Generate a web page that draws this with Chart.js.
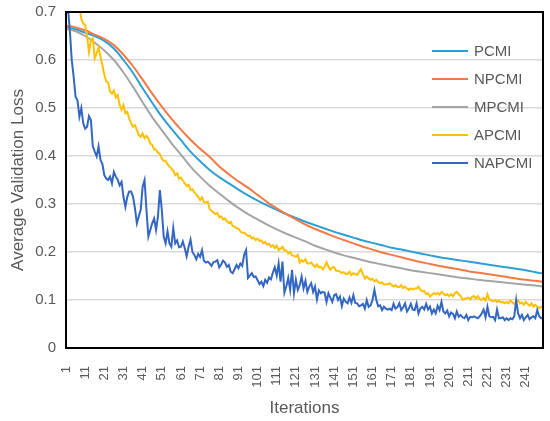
<!DOCTYPE html>
<html lang="en">
<head>
<meta charset="UTF-8">
<title>Average Validation Loss</title>
<script src="https://cdn.jsdelivr.net/npm/chart.js"></script>
<style>
  body { margin: 0; background: #fff; }
</style>
</head>
<body>
<canvas id="chart" width="550" height="421"></canvas>
<script>
// x categories: iterations 1..250, labelled every 10
const iterations = Array.from({length: 250}, (_, i) => String(i + 1));
const xTickLabels = ['1','11','21','31','41','51','61','71','81','91','101','111','121',
  '131','141','151','161','171','181','191','201','211','221','231','241'];

// smooth curves read every 5 iterations
const sampleIters = ['1','6','11','16','21','26','31','36','41','46',
  '51','56','61','66','71','76','81','86','91','96',
  '101','106','111','116','121','126','131','136','141','146',
  '151','156','161','166','171','176','181','186','191','196',
  '201','206','211','216','221','226','231','236','241','246','250'];

const pcmi = [0.668,0.664,0.657,0.650,0.640,0.624,0.600,0.573,0.541,0.511,
  0.482,0.457,0.433,0.409,0.389,0.371,0.356,0.343,0.330,0.318,
  0.307,0.297,0.288,0.279,0.271,0.263,0.256,0.249,0.242,0.236,
  0.230,0.224,0.219,0.214,0.209,0.205,0.201,0.197,0.193,0.189,
  0.186,0.183,0.180,0.177,0.174,0.171,0.168,0.165,0.162,0.158,0.155];

const npcmi = [0.672,0.668,0.662,0.653,0.644,0.631,0.611,0.587,0.559,0.530,
  0.503,0.478,0.455,0.434,0.415,0.398,0.378,0.362,0.347,0.334,
  0.319,0.304,0.291,0.279,0.268,0.257,0.248,0.240,0.232,0.225,
  0.218,0.211,0.205,0.199,0.194,0.189,0.184,0.179,0.175,0.171,
  0.167,0.164,0.160,0.157,0.154,0.151,0.148,0.145,0.142,0.140,0.138];

const mpcmi = [0.665,0.660,0.650,0.636,0.620,0.600,0.574,0.544,0.512,0.481,
  0.454,0.427,0.403,0.378,0.357,0.338,0.322,0.306,0.292,0.279,
  0.268,0.257,0.247,0.238,0.230,0.222,0.213,0.206,0.199,0.193,
  0.188,0.183,0.178,0.174,0.170,0.166,0.162,0.159,0.156,0.153,
  0.150,0.147,0.145,0.142,0.140,0.138,0.136,0.134,0.132,0.130,0.128];

// noisy curves, one value per iteration
const apcmi = [0.95,0.9,0.86,0.82,0.79,0.76,0.74,0.715,0.685,0.676,
  0.673,0.649,0.617,0.642,0.645,0.603,0.614,0.626,0.607,0.589,
  0.569,0.555,0.553,0.534,0.53,0.536,0.522,0.527,0.506,0.496,
  0.506,0.489,0.492,0.478,0.469,0.461,0.464,0.454,0.444,0.44,
  0.447,0.437,0.442,0.437,0.426,0.423,0.414,0.413,0.407,0.404,
  0.395,0.39,0.39,0.383,0.378,0.374,0.369,0.36,0.364,0.353,
  0.355,0.349,0.343,0.338,0.34,0.329,0.331,0.324,0.32,0.315,
  0.308,0.314,0.304,0.303,0.305,0.289,0.286,0.282,0.279,0.281,
  0.272,0.274,0.268,0.27,0.264,0.261,0.263,0.254,0.253,0.249,
  0.249,0.243,0.24,0.24,0.237,0.233,0.234,0.228,0.23,0.225,
  0.228,0.223,0.224,0.218,0.221,0.215,0.217,0.211,0.214,0.208,
  0.213,0.204,0.207,0.211,0.203,0.203,0.197,0.2,0.193,0.192,
  0.19,0.194,0.178,0.183,0.18,0.185,0.176,0.176,0.178,0.173,
  0.169,0.174,0.168,0.169,0.164,0.169,0.179,0.169,0.163,0.168,
  0.168,0.161,0.161,0.159,0.156,0.158,0.154,0.154,0.159,0.152,
  0.156,0.154,0.152,0.159,0.164,0.154,0.145,0.149,0.145,0.142,
  0.144,0.139,0.142,0.137,0.135,0.137,0.132,0.133,0.133,0.135,
  0.131,0.128,0.131,0.127,0.127,0.131,0.125,0.128,0.124,0.121,
  0.124,0.122,0.124,0.124,0.128,0.121,0.118,0.119,0.112,0.114,
  0.107,0.111,0.114,0.112,0.115,0.111,0.117,0.114,0.11,0.112,
  0.108,0.112,0.108,0.114,0.117,0.112,0.108,0.101,0.102,0.104,
  0.105,0.101,0.107,0.108,0.103,0.108,0.102,0.1,0.104,0.099,
  0.112,0.101,0.099,0.097,0.1,0.096,0.099,0.095,0.096,0.093,
  0.096,0.093,0.099,0.095,0.092,0.096,0.099,0.093,0.095,0.09,
  0.096,0.092,0.088,0.093,0.086,0.09,0.086,0.083,0.086,0.084];

const napcmi = [0.78,0.71,0.662,0.6,0.565,0.523,0.516,0.482,0.5,0.468,
  0.457,0.461,0.483,0.475,0.42,0.409,0.399,0.42,0.392,0.383,
  0.36,0.353,0.35,0.357,0.343,0.367,0.357,0.35,0.339,0.346,
  0.315,0.294,0.315,0.326,0.326,0.315,0.291,0.26,0.274,0.288,
  0.336,0.35,0.288,0.232,0.246,0.26,0.27,0.246,0.274,0.329,
  0.288,0.232,0.218,0.243,0.218,0.211,0.25,0.218,0.224,0.21,
  0.211,0.222,0.208,0.191,0.211,0.226,0.2,0.194,0.185,0.196,
  0.19,0.204,0.182,0.178,0.18,0.176,0.171,0.179,0.18,0.183,
  0.168,0.174,0.182,0.178,0.169,0.173,0.159,0.156,0.164,0.173,
  0.166,0.176,0.171,0.194,0.204,0.146,0.151,0.156,0.148,0.149,
  0.141,0.133,0.138,0.129,0.142,0.136,0.147,0.143,0.157,0.168,
  0.151,0.176,0.138,0.18,0.115,0.128,0.146,0.121,0.163,0.114,
  0.142,0.121,0.131,0.149,0.124,0.14,0.117,0.128,0.135,0.117,
  0.128,0.101,0.12,0.114,0.117,0.115,0.096,0.114,0.105,0.096,
  0.11,0.112,0.1,0.107,0.087,0.103,0.096,0.093,0.105,0.094,
  0.11,0.094,0.093,0.087,0.089,0.092,0.082,0.1,0.086,0.089,
  0.1,0.121,0.1,0.087,0.089,0.079,0.086,0.082,0.08,0.082,
  0.079,0.092,0.082,0.085,0.093,0.079,0.085,0.093,0.076,0.082,
  0.092,0.08,0.079,0.093,0.072,0.082,0.086,0.08,0.092,0.08,
  0.086,0.072,0.08,0.072,0.088,0.079,0.096,0.076,0.072,0.078,
  0.066,0.074,0.071,0.062,0.076,0.065,0.069,0.064,0.062,0.069,
  0.058,0.065,0.064,0.066,0.064,0.062,0.066,0.072,0.08,0.064,
  0.086,0.066,0.064,0.065,0.058,0.08,0.062,0.062,0.064,0.058,
  0.062,0.058,0.062,0.06,0.066,0.1,0.072,0.062,0.069,0.058,
  0.064,0.069,0.06,0.064,0.066,0.062,0.079,0.066,0.062,0.064];

const seriesNames = ['PCMI', 'NPCMI', 'MPCMI', 'APCMI', 'NAPCMI'];
const seriesColors = ['#2E9FD5', '#F27A45', '#A5A5A5', '#FFC000', '#3467C4'];
const seriesData = [pcmi, npcmi, mpcmi, apcmi, napcmi];

const fontFamily = '"Liberation Sans", Arial, sans-serif';
const textColor = '#595959';

const datasets = seriesNames.map((name, k) => ({
  label: name,
  data: k < 3 ? seriesData[k].map((v, i) => ({x: sampleIters[i], y: v})) : seriesData[k],
  borderColor: seriesColors[k],
  backgroundColor: seriesColors[k],
  borderWidth: 2,
  pointRadius: 0,
  cubicInterpolationMode: k < 3 ? 'monotone' : 'default',
  tension: 0,
  order: 4 - k  // later series on top, like the original
}));

// black frame round the plot and the legend inside it
const frameAndLegend = {
  id: 'frameAndLegend',
  afterDatasetsDraw(chart) {
    const {ctx, chartArea: a} = chart;
    ctx.save();
    ctx.strokeStyle = '#000';
    ctx.lineWidth = 2;
    ctx.strokeRect(a.left, a.top, a.right - a.left, a.bottom - a.top);
    ctx.font = '15px ' + fontFamily;
    ctx.textBaseline = 'middle';
    ctx.textAlign = 'left';
    seriesNames.forEach((name, i) => {
      const x = a.right - 111;
      const y = a.top + 39 + i * 28;
      ctx.strokeStyle = seriesColors[i];
      ctx.lineWidth = 2;
      ctx.beginPath();
      ctx.moveTo(x, y);
      ctx.lineTo(x + 36, y);
      ctx.stroke();
      ctx.fillStyle = textColor;
      ctx.fillText(name, x + 42, y + 1);
    });
    ctx.restore();
  }
};

new Chart(document.getElementById('chart'), {
  type: 'line',
  data: { labels: iterations, datasets: datasets },
  options: {
    responsive: false,
    animation: false,
    layout: { padding: { top: 12, right: 7, left: 0, bottom: 0 } },
    plugins: { legend: { display: false }, tooltip: { enabled: false } },
    scales: {
      x: {
        grid: { display: false },
        border: { display: false },
        ticks: {
          autoSkip: false,
          minRotation: 90,
          maxRotation: 90,
          padding: 10,
          color: textColor,
          font: { size: 13, family: fontFamily },
          callback: function (value) {
            const label = this.getLabelForValue(value);
            return xTickLabels.includes(label) ? label : '';
          }
        },
        title: {
          display: true,
          text: 'Iterations',
          color: textColor,
          font: { size: 17, family: fontFamily },
          padding: { top: 0, bottom: 2 }
        },
        afterFit(scale) {
          scale.height = 73;
          scale.paddingLeft = 0;
          scale.paddingRight = 0;
        }
      },
      y: {
        min: 0,
        max: 0.7,
        ticks: { stepSize: 0.1, padding: 10, color: textColor, font: { size: 15, family: fontFamily } },
        grid: { color: '#D9D9D9', lineWidth: 1.5, drawTicks: false },
        border: { display: false },
        title: {
          display: true,
          text: 'Average Validation Loss',
          color: textColor,
          font: { size: 17, family: fontFamily },
          padding: { top: 8, bottom: 0 }
        },
        afterFit(scale) {
          scale.width = 66;
          scale.paddingTop = 0;
          scale.paddingBottom = 0;
        }
      }
    }
  },
  plugins: [frameAndLegend]
});
</script>
</body>
</html>
